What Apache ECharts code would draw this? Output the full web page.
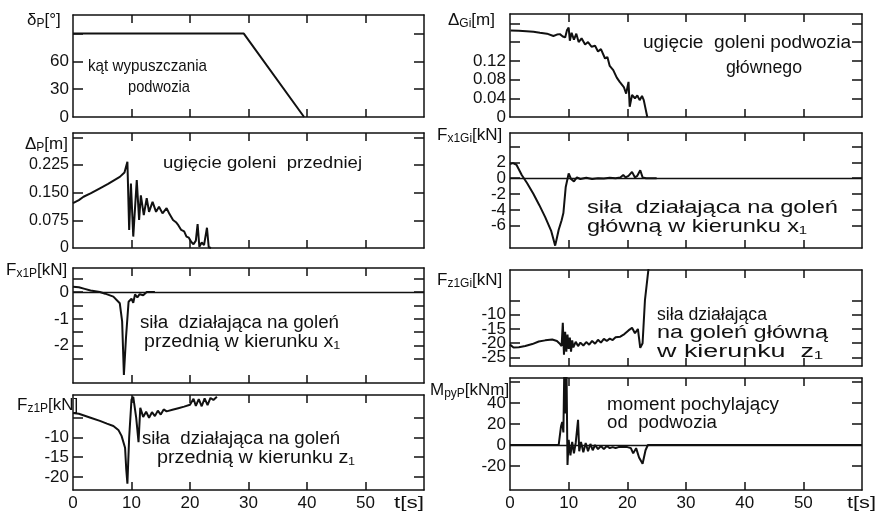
<!DOCTYPE html>
<html><head><meta charset="utf-8">
<script src="https://cdn.jsdelivr.net/npm/echarts@6/dist/echarts.min.js"></script>
<style>html,body{margin:0;padding:0;background:#fff}#c{width:878px;height:512px}</style>
</head><body><div id="c"></div>
<script>
const FONT = '"Liberation Sans","DejaVu Sans",Arial,sans-serif';

// ---------- data ----------
const xTicks = [10, 20, 30, 40, 50];
const xTickLabels = [0, 10, 20, 30, 40, 50];

// kąt wypuszczania podwozia
const tAngle = [0, 29.2, 39.5];
const vAngle = [90, 90, 0];
const yTicksAngle = [30, 60, 90];
const yLabelsAngle = [0, 30, 60];

// ugięcie goleni przedniej
const tDeltaP = [0, 1, 1.8, 3, 4.6, 6, 8.0, 8.8, 9.3, 9.6, 9.9, 10.3, 10.9, 11.3, 11.6, 12.1, 12.6, 13.0, 13.6, 14.2, 14.7, 15.3, 16.0, 16.5, 17.1, 17.6, 18.0, 18.5, 19.0, 19.4, 19.8, 20.2, 20.6, 21.0, 21.3, 21.6, 22.0, 22.4, 22.9, 23.2, 23.6];
const vDeltaP = [0.122, 0.130, 0.139, 0.148, 0.162, 0.174, 0.193, 0.205, 0.234, 0.049, 0.175, 0.031, 0.184, 0.076, 0.143, 0.089, 0.135, 0.098, 0.125, 0.098, 0.112, 0.094, 0.108, 0.092, 0.076, 0.070, 0.062, 0.049, 0.045, 0.031, 0.028, 0.017, 0.010, 0.020, 0.065, 0.003, 0.015, 0.008, 0.055, 0.002, 0];
const yTicksDeltaP = [0.075, 0.15, 0.225, 0.3];
const yLabelsDeltaP = [0, 0.075, 0.15, 0.225];

// siła na goleń przednią, kierunek x1
const tFx1P = [0, 1, 2, 3, 4.6, 5.5, 6.9, 8.0, 8.4, 8.7, 9.06, 9.5, 10.0, 10.3, 10.6, 11.0, 11.4, 12.0, 12.6, 14];
const vFx1P = [0.2, 0.18, 0.12, 0.06, 0, -0.06, -0.17, -0.42, -1.1, -3.1, -1.7, -0.36, -0.25, -0.4, -0.09, -0.2, -0.08, -0.12, 0, 0];
const yTicksFx1P = [-2.5, -2, -1.5, -1, -0.5, 0, 0.5];
const yLabelsFx1P = [-2, -1, 0];

// siła na goleń przednią, kierunek z1
const tFz1P = [0, 1, 2, 3, 4.6, 5.8, 6.9, 7.8, 8.3, 8.9, 9.1, 9.3, 9.6, 10.0, 10.3, 10.8, 11.0, 11.2, 11.5, 12.0, 12.5, 13.0, 13.5, 14.0, 14.5, 15.0, 15.5, 16.0, 17, 18, 19, 20, 20.6, 21.0, 21.5, 22.0, 22.5, 23.0, 23.5, 24.0, 24.6];
const vFz1P = [-3.8, -4.0, -4.5, -5.0, -5.8, -6.5, -7.1, -8.2, -9.6, -12.6, -18, -21.7, -10, -0.4, 0.3, -5, -8, -11.2, -2.5, -4.8, -3.5, -5.0, -3.6, -4.6, -3.2, -4.2, -2.9, -3.4, -3.0, -2.6, -2.2, -1.7, -0.2, -2.0, -0.3, -2.1, -0.1, -1.8, 0, -0.5, 0.3];
const yTicksFz1P = [-20, -15, -10, -5];
const yLabelsFz1P = [-20, -15, -10];

// ugięcie goleni podwozia głównego
const tDeltaGi = [0.1, 1.5, 2.8, 4, 5.1, 6.3, 7.4, 8.0, 8.5, 9.0, 9.4, 9.7, 10.0, 10.2, 10.5, 10.9, 11.3, 11.7, 12.2, 12.8, 13.3, 13.9, 14.5, 15.0, 15.5, 16.2, 16.6, 17.0, 17.6, 18.2, 18.7, 19.4, 19.8, 20.2, 20.4, 20.8, 21.3, 21.7, 22.1, 22.5, 22.8, 23.4];
const vDeltaGi = [0.185, 0.184, 0.183, 0.182, 0.180, 0.178, 0.173, 0.176, 0.177, 0.172, 0.170, 0.185, 0.191, 0.163, 0.180, 0.165, 0.178, 0.160, 0.168, 0.155, 0.160, 0.150, 0.152, 0.140, 0.145, 0.125, 0.128, 0.109, 0.100, 0.084, 0.075, 0.064, 0.050, 0.075, 0.022, 0.047, 0.040, 0.046, 0.036, 0.045, 0.036, 0];
const yTicksDeltaGi = [0.04, 0.08, 0.12, 0.16, 0.2];
const yLabelsDeltaGi = [0, 0.04, 0.08, 0.12];

// siła na goleń główną, kierunek x1
const tFx1Gi = [0, 0.5, 1.1, 2.0, 2.9, 4, 5, 6, 7, 7.7, 8.0, 8.3, 8.8, 9.1, 9.5, 10.0, 10.4, 10.9, 11.4, 12, 13, 14, 15, 16, 17, 18, 18.8, 19.3, 19.7, 20.2, 20.8, 21.3, 21.7, 22.2, 22.6, 23.2, 25];
const vFx1Gi = [1.8, 1.9, 1.7, 0.4, -0.6, -2.0, -3.4, -4.9, -6.6, -8.5, -7.5, -6.5, -5.3, -4.4, -1.1, 0.6, -0.1, -0.4, 0.1, -0.1, 0.05, -0.1, 0, -0.05, 0.05, 0, 0.1, 0.4, 0.1, 0.3, 0.8, 0.1, 0.3, 1.0, 0.1, 0, 0];
const yTicksFx1Gi = [-6, -4, -2, 0, 2, 4];
const yLabelsFx1Gi = [-6, -4, -2, 0, 2];

// siła na goleń główną, kierunek z1
const tFz1Gi = [0, 0.6, 1.5, 2.6, 3.8, 4.9, 6, 7.2, 8.0, 8.4, 8.8, 9.0, 9.2, 9.4, 9.6, 9.8, 10.0, 10.2, 10.4, 10.6, 10.8, 11.2, 11.6, 12.0, 12.5, 13, 13.5, 14, 14.5, 15, 15.5, 16, 16.5, 17, 17.5, 18, 18.8, 19.5, 20.2, 20.8, 21.3, 21.8, 22.2, 22.6, 23.0, 23.6, 24.0];
const vFz1Gi = [-20.5, -21.5, -21.4, -21.0, -20.3, -19.4, -19.0, -18.7, -19.2, -20.0, -21, -12.8, -24, -16, -23, -17, -22, -18, -23, -19, -21.5, -19.5, -21, -19.8, -20.8, -19.6, -20.5, -19.2, -20.2, -18.8, -19.8, -18.5, -19.2, -18.4, -18.9, -17.9, -17.7, -16.8, -15.5, -14.6, -16.5, -15.0, -21.6, -20, -5, 6, 10];
const yTicksFz1Gi = [-25, -20, -15, -10, -5];
const yLabelsFz1Gi = [-25, -20, -15, -10];

// moment pochylający od podwozia
const tMpy = [0, 8.3, 8.7, 8.9, 9.1, 9.3, 9.45, 9.6, 9.8, 10.0, 10.3, 10.6, 10.9, 11.2, 11.6, 11.8, 12.1, 12.5, 12.9, 13.3, 13.7, 14.1, 14.5, 15, 15.5, 16, 16.5, 17, 17.5, 18, 18.5, 19.3, 20, 20.6, 21.0, 21.5, 22.0, 22.6, 23.1, 23.5, 60];
const vMpy = [0, 0, 18, 22, 12, 90, 30, 90, -19, 5, -10, 3, -8, 2, 24, -6, 3, -7, 2, -6, 1, -5, 0, -4, -1, -4, -1, -3, -2, -3, -2, -2, -2, -3, -8, -3, -12, -18, -5, 0, 0];
const yTicksMpy = [-20, 0, 20, 40, 60];
const yLabelsMpy = [-20, 0, 20, 40];

// ---------- layout ----------
const zip = (t, v) => t.map((x, i) => [x, v[i]]);
const fmt3 = v => (v === 0 ? '0' : v.toFixed(3));
const fmt2 = v => (v === 0 ? '0' : v.toFixed(2));
const fmtInt = v => String(v);

const L = 73, LW = 351, R = 510, RW = 352;
const panels = [
  { g: { left: L, top: 15, width: LW, height: 102 }, min: 0, max: 110, ticks: yTicksAngle, labels: yLabelsAngle, f: fmtInt, t: tAngle, v: vAngle, zero: false, xlab: false, fs: 17 },
  { g: { left: L, top: 133, width: LW, height: 115 }, min: 0, max: 0.312, ticks: yTicksDeltaP, labels: yLabelsDeltaP, f: fmt3, t: tDeltaP, v: vDeltaP, zero: false, xlab: false, fs: 16 },
  { g: { left: L, top: 268, width: LW, height: 115 }, min: -3.4, max: 0.9, ticks: yTicksFx1P, labels: yLabelsFx1P, f: fmtInt, t: tFx1P, v: vFx1P, zero: true, xlab: false, fs: 17 },
  { g: { left: L, top: 395, width: LW, height: 96 }, min: -23.3, max: 0.75, ticks: yTicksFz1P, labels: yLabelsFz1P, f: fmtInt, t: tFz1P, v: vFz1P, zero: false, xlab: true, fs: 17 },
  { g: { left: R, top: 14, width: RW, height: 103 }, min: 0, max: 0.22, ticks: yTicksDeltaGi, labels: yLabelsDeltaGi, f: fmt2, t: tDeltaGi, v: vDeltaGi, zero: false, xlab: false, fs: 17 },
  { g: { left: R, top: 133, width: RW, height: 115 }, min: -8.8, max: 5.7, ticks: yTicksFx1Gi, labels: yLabelsFx1Gi, f: fmtInt, t: tFx1Gi, v: vFx1Gi, zero: true, xlab: false, fs: 17 },
  { g: { left: R, top: 270, width: RW, height: 96 }, min: -28, max: 5.7, ticks: yTicksFz1Gi, labels: yLabelsFz1Gi, f: fmtInt, t: tFz1Gi, v: vFz1Gi, zero: false, xlab: false, fs: 17 },
  { g: { left: R, top: 378, width: RW, height: 115 }, min: -43, max: 64, ticks: yTicksMpy, labels: yLabelsMpy, f: fmtInt, t: tMpy, v: vMpy, zero: true, xlab: true, fs: 17 }
];

const INK = '#111';
const lineSt = { color: INK, width: 1.5 };
const grid = [], xAxis = [], yAxis = [], series = [];
panels.forEach((p, i) => {
  grid.push(Object.assign({ containLabel: false }, p.g));
  ['bottom', 'top'].forEach(pos => {
    xAxis.push({
      gridIndex: i, type: 'value', min: 0, max: 60, position: pos,
      axisLine: { show: true, onZero: false, lineStyle: lineSt },
      axisTick: { show: true, inside: true, length: 8, customValues: xTicks, lineStyle: lineSt },
      axisLabel: { show: pos === 'bottom' && p.xlab, customValues: xTickLabels, fontSize: 17, color: INK, margin: 5, fontFamily: FONT, hideOverlap: false },
      splitLine: { show: false }
    });
  });
  const evenLabels = p.labels.filter((_, k) => k % 2 === 0);
  const oddLabels = p.labels.filter((_, k) => k % 2 === 1);
  // left axis (frame, ticks, even labels)
  yAxis.push({
    gridIndex: i, type: 'value', min: p.min, max: p.max, position: 'left',
    axisLine: { show: true, onZero: false, lineStyle: lineSt },
    axisTick: { show: true, inside: true, length: 10, customValues: p.ticks, lineStyle: lineSt },
    axisLabel: { show: true, customValues: evenLabels, formatter: p.f, fontSize: p.fs, color: INK, margin: 4, fontFamily: FONT, hideOverlap: false, showMinLabel: true, showMaxLabel: true },
    splitLine: { show: false }
  });
  // right axis (frame, ticks)
  yAxis.push({
    gridIndex: i, type: 'value', min: p.min, max: p.max, position: 'right',
    axisLine: { show: true, onZero: false, lineStyle: lineSt },
    axisTick: { show: true, inside: true, length: 10, customValues: p.ticks, lineStyle: lineSt },
    axisLabel: { show: false },
    splitLine: { show: false }
  });
  // second left axis carrying odd labels only
  yAxis.push({
    gridIndex: i, type: 'value', min: p.min, max: p.max, position: 'left', offset: 0,
    axisLine: { show: false, onZero: false },
    axisTick: { show: false },
    axisLabel: { show: oddLabels.length > 0, customValues: oddLabels.length ? oddLabels : [p.min], formatter: p.f, fontSize: p.fs, color: INK, margin: 4, fontFamily: FONT, hideOverlap: false, showMinLabel: true, showMaxLabel: true },
    splitLine: { show: false }
  });
  const s = {
    type: 'line', xAxisIndex: 2 * i, yAxisIndex: 3 * i, data: zip(p.t, p.v),
    symbol: 'none', showSymbol: false, clip: true, silent: true,
    lineStyle: { color: INK, width: 2 }
  };
  if (p.zero) {
    s.markLine = { silent: true, symbol: ['none', 'none'], label: { show: false }, lineStyle: { color: INK, width: 1.3, type: 'solid' }, data: [{ yAxis: 0 }] };
  }
  series.push(s);
});

// ---------- texts ----------
const mctx = document.createElement('canvas').getContext('2d');
function fitText(str, x, y, w, fs) {
  mctx.font = fs + 'px ' + FONT;
  const mw = mctx.measureText(str).width;
  return { type: 'text', x: x, y: y, scaleX: w / mw, silent: true,
    style: { text: str, fontSize: fs, fontFamily: FONT, fill: INK, align: 'left', verticalAlign: 'middle' } };
}
function subLabel(main, sub, tail, x, y, fs) {
  const ss = Math.round(fs * 0.68);
  return { type: 'text', x: x, y: y, silent: true,
    style: { text: '{m|' + main + '}{s|' + sub + '}{m|' + tail + '}', align: 'left', verticalAlign: 'middle', fill: INK,
      rich: {
        m: { fontSize: fs, fontFamily: FONT, fill: INK, lineHeight: fs + 2 },
        s: { fontSize: ss, fontFamily: FONT, fill: INK, verticalAlign: 'bottom', lineHeight: ss + 1, padding: [9, 0, 0, 0] }
      } } };
}

const graphic = [
  fitText('kąt wypuszczania', 88, 66, 119, 17),
  fitText('podwozia', 128, 87, 62, 17),
  fitText('ugięcie goleni  przedniej', 163, 163, 199, 17),
  fitText('siła  działająca na goleń', 140, 323, 199, 18),
  fitText('przednią w kierunku x₁', 144, 342, 196, 18),
  fitText('siła  działająca na goleń', 142, 439, 198, 18),
  fitText('przednią w kierunku z₁', 157, 458, 198, 18),
  fitText('ugięcie  goleni podwozia', 643, 43, 208, 18),
  fitText('głównego', 726, 68, 76, 18),
  fitText('siła  działająca na goleń', 587, 208, 251, 19),
  fitText('główną w kierunku x₁', 587, 227, 220, 19),
  fitText('siła działająca', 657, 315, 110, 18),
  fitText('na goleń główną', 657, 333, 171, 18),
  fitText('w kierunku  z₁', 657, 352, 166, 18),
  fitText('moment pochylający', 607, 405, 172, 18),
  fitText('od  podwozia', 607, 423, 110, 18),
  fitText('t[s]', 394, 503, 30, 17),
  fitText('t[s]', 847, 503, 29, 17),
  subLabel('δ', 'P', '[°]', 27, 20, 17),
  subLabel('Δ', 'P', '[m]', 25, 144, 17),
  subLabel('F', 'x1P', '[kN]', 6, 270, 17),
  subLabel('F', 'z1P', '[kN]', 17, 405, 17),
  subLabel('Δ', 'Gi', '[m]', 448, 20, 17),
  subLabel('F', 'x1Gi', '[kN]', 437, 135, 17),
  subLabel('F', 'z1Gi', '[kN]', 437, 280, 17),
  subLabel('M', 'pyP', '[kNm]', 430, 390, 17)
];

const chart = echarts.init(document.getElementById('c'), null, { renderer: 'canvas' });
chart.setOption({
  animation: false,
  backgroundColor: '#fff',
  textStyle: { fontFamily: FONT },
  grid, xAxis, yAxis, series, graphic
});
</script>
</body></html>
